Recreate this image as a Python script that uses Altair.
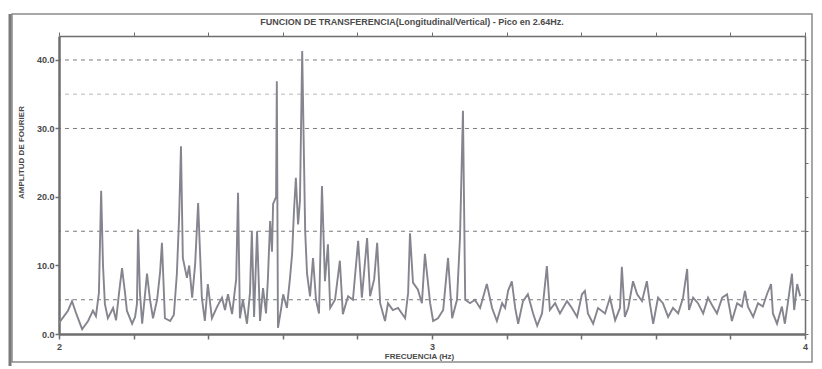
import altair as alt
import pandas as pd

freq = [2.000, 2.008, 2.024, 2.035, 2.046, 2.062, 2.078, 2.091, 2.099, 2.107, 2.113, 2.118, 2.123, 2.131,
        2.145, 2.153, 2.161, 2.169, 2.177, 2.182, 2.196, 2.204, 2.209, 2.212, 2.217, 2.223, 2.236, 2.244,
        2.252, 2.263, 2.271, 2.276, 2.284, 2.298, 2.308, 2.316, 2.322, 2.327, 2.332, 2.338, 2.343, 2.349,
        2.357, 2.365, 2.373, 2.378, 2.383, 2.391, 2.399, 2.410, 2.424, 2.437, 2.445, 2.453, 2.464, 2.475,
        2.480, 2.485, 2.493, 2.504, 2.512, 2.517, 2.523, 2.531, 2.539, 2.547, 2.555, 2.560, 2.566, 2.571,
        2.574, 2.582, 2.584, 2.587, 2.595, 2.601, 2.611, 2.619, 2.625, 2.630, 2.635, 2.641, 2.646, 2.652,
        2.660, 2.665, 2.673, 2.681, 2.689, 2.697, 2.705, 2.713, 2.721, 2.727, 2.740, 2.753, 2.761, 2.775,
        2.788, 2.802, 2.812, 2.826, 2.834, 2.845, 2.853, 2.861, 2.874, 2.882, 2.895, 2.909, 2.928, 2.936,
        2.941, 2.949, 2.962, 2.973, 2.981, 2.995, 3.003, 3.016, 3.030, 3.043, 3.054, 3.067, 3.075, 3.083,
        3.089, 3.102, 3.115, 3.129, 3.147, 3.161, 3.174, 3.188, 3.196, 3.204, 3.214, 3.223, 3.231, 3.244,
        3.257, 3.271, 3.282, 3.295, 3.308, 3.316, 3.330, 3.343, 3.362, 3.375, 3.389, 3.402, 3.410, 3.418,
        3.432, 3.445, 3.464, 3.477, 3.491, 3.504, 3.509, 3.517, 3.526, 3.539, 3.550, 3.563, 3.576, 3.584,
        3.593, 3.606, 3.619, 3.633, 3.646, 3.660, 3.673, 3.684, 3.689, 3.700, 3.713, 3.727, 3.740, 3.753,
        3.764, 3.778, 3.791, 3.804, 3.818, 3.831, 3.839, 3.847, 3.861, 3.874, 3.887, 3.898, 3.909, 3.914,
        3.925, 3.938, 3.946, 3.954, 3.965, 3.971, 3.979, 3.987]

amplitude = [1.6, 2.2, 3.4, 4.8, 3.0, 0.7, 1.9, 3.4, 2.6, 6.0, 20.9, 10.0, 4.4, 2.3,
             3.8, 2.0, 6.0, 9.6, 6.0, 3.4, 1.5, 2.5, 4.4, 15.3, 6.0, 1.5, 8.8, 5.0,
             2.3, 5.0, 9.0, 13.3, 2.3, 1.9, 2.8, 8.8, 17.0, 27.4, 11.1, 9.5, 8.2, 10.0,
             5.3, 10.2, 19.1, 12.0, 5.3, 1.9, 7.3, 2.3, 4.0, 5.3, 3.5, 5.8, 2.9, 8.0,
             20.6, 2.3, 5.0, 1.5, 6.0, 15.0, 2.5, 15.0, 1.9, 6.7, 3.0, 8.0, 16.5, 12.0,
             19.0, 20.0, 36.9, 0.9, 3.5, 5.8, 3.8, 8.0, 11.7, 18.0, 22.8, 16.0, 19.5, 41.3,
             15.0, 8.8, 5.5, 11.1, 5.0, 3.0, 21.6, 7.7, 13.1, 3.8, 5.0, 10.7, 2.9, 5.5,
             5.0, 13.6, 5.3, 14.0, 5.5, 8.0, 13.3, 4.5, 1.9, 4.5, 3.5, 3.8, 2.3, 6.0,
             14.7, 7.5, 6.5, 4.5, 11.7, 4.5, 1.9, 2.3, 3.5, 11.1, 2.3, 5.0, 14.0, 32.6,
             5.0, 4.5, 5.0, 3.8, 7.3, 3.8, 1.9, 4.5, 3.8, 6.3, 7.7, 3.8, 1.5, 4.8,
             5.8, 3.0, 1.2, 3.0, 9.9, 3.5, 4.5, 3.0, 4.8, 3.8, 2.5, 5.8, 6.3, 3.0,
             1.5, 3.8, 3.0, 5.3, 2.0, 3.8, 9.8, 2.5, 3.8, 7.7, 5.8, 4.8, 7.7, 4.5,
             1.5, 5.3, 4.5, 2.5, 3.8, 3.0, 5.3, 9.5, 3.5, 5.3, 4.5, 3.0, 5.3, 4.0,
             3.0, 5.3, 5.8, 1.9, 4.5, 4.0, 6.3, 4.0, 2.5, 4.5, 4.0, 5.8, 7.3, 3.0,
             1.5, 4.0, 1.5, 4.5, 8.8, 3.5, 7.3, 5.5]

x_ticks = [2.0, 2.2, 2.4, 2.6, 2.8, 3.0, 3.2, 3.4, 3.6, 3.8, 4.0]
y_ticks = [0, 10, 20, 30, 40]
grid_values = [5, 15, 30, 35, 40]
grid_strength = [0.9, 0.9, 0.9, 0.45, 0.9]

title_text = "FUNCION DE TRANSFERENCIA(Longitudinal/Vertical) - Pico en 2.64Hz."
x_title = "FRECUENCIA (Hz)"
y_title = "AMPLITUD DE FOURIER"

FONT = "Liberation Sans"
TXT = "#4a4a4a"
AX = "#6e6e6e"
LINE = "#85858f"

df = pd.DataFrame({"freq": freq, "amp": amplitude})
grid_df = pd.DataFrame({"v": grid_values, "s": grid_strength})

xscale = alt.Scale(domain=[2, 4], nice=False, zero=False)
yscale = alt.Scale(domain=[0, 43.5], nice=False, zero=True)

frame = alt.Chart(pd.DataFrame({"a": [0]})).mark_rect(
    fillOpacity=0, stroke="#8a8a8a", strokeWidth=1.5
).encode(x=alt.value(-47), x2=alt.value(753), y=alt.value(-22), y2=alt.value(326))

left_edge = alt.Chart(pd.DataFrame({"a": [0]})).mark_rule(
    color="#7a7a7a", strokeWidth=3
).encode(x=alt.value(-49), y=alt.value(-22), y2=alt.value(330))

grid = alt.Chart(grid_df).mark_rule(
    strokeDash=[4, 4], color="#6a6a6a", strokeWidth=1
).encode(
    y=alt.Y("v:Q", scale=yscale, axis=None),
    opacity=alt.Opacity("s:Q", scale=None, legend=None),
)

line = alt.Chart(df).mark_line(color=LINE, strokeWidth=1.9, interpolate="linear").encode(
    x=alt.X("freq:Q", scale=xscale, axis=alt.Axis(
        values=x_ticks, labelExpr="datum.value % 1 == 0 ? format(datum.value, 'd') : ''",
        orient="bottom", grid=False, title=x_title, titleFont=FONT, titleFontSize=8,
        titleFontWeight="bold", titleColor=TXT, titleX=360, titleY=22, titleBaseline="middle",
        titleAlign="center", labelFont=FONT, labelFontSize=9, labelFontWeight="bold",
        labelColor=TXT, labelPadding=3, tickSize=5, tickColor=AX, tickWidth=1.5,
        domainColor=AX, domainWidth=2.5, labelFlush=False)),
    y=alt.Y("amp:Q", scale=yscale, axis=alt.Axis(
        values=y_ticks, format=".1f", orient="left", grid=False, title=y_title,
        titleFont=FONT, titleFontSize=8, titleFontWeight="bold", titleColor=TXT,
        titleAngle=270, titleX=-38, titleY=116, titleAlign="center", titleBaseline="middle",
        labelFont=FONT, labelFontSize=9, labelFontWeight="bold", labelColor=TXT,
        labelPadding=1, tickSize=4, tickColor=AX, tickWidth=1.5,
        domainColor=AX, domainWidth=2.5)),
)

opp = alt.Chart(df).mark_point(opacity=0).encode(
    x=alt.X("freq:Q", scale=xscale, axis=alt.Axis(
        values=x_ticks, orient="top", labels=False, title=None, grid=False,
        tickSize=4, tickColor=AX, domainColor=AX, domainWidth=1.5)),
    y=alt.Y("amp:Q", scale=yscale, axis=alt.Axis(
        values=[0, 5, 10, 15, 20, 25, 30, 35, 40], orient="right", labels=False, title=None,
        grid=False, tickSize=3, tickColor=AX, domainColor=AX, domainWidth=1.5)),
)

chart = alt.layer(frame, left_edge, grid, line, opp).resolve_axis(
    x="independent", y="independent"
).properties(
    width=746, height=298,
    padding={"left": 51, "top": 28, "right": 9, "bottom": 33},
    autosize=alt.AutoSizeParams(type="none"),
    title=alt.TitleParams(title_text, font=FONT, fontSize=9, fontWeight="bold",
                          color=TXT, anchor="middle", dx=-20, dy=18, offset=4),
).configure_view(stroke=AX, strokeWidth=1.5).configure(background="white")

chart.save("out.html", embed_options={"renderer": "svg", "actions": False})
